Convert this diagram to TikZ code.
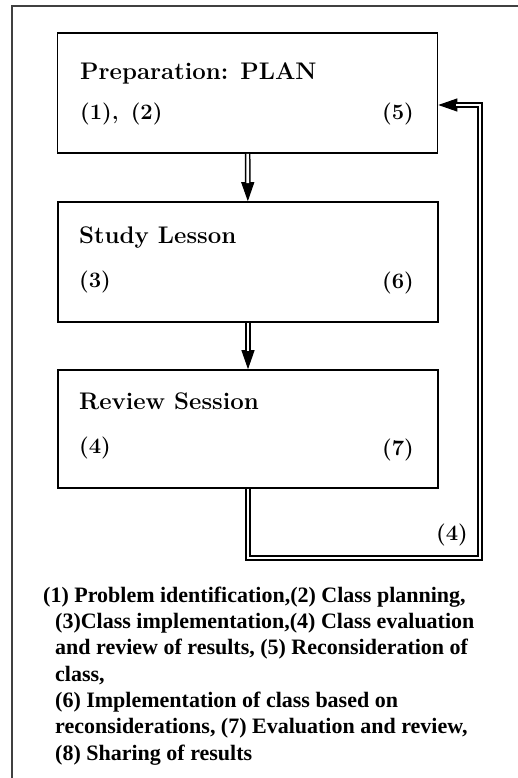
\documentclass[tikz,border=0pt]{standalone}
\usepackage{fontspec}
\newfontfamily\notefont{Liberation Serif}
\usetikzlibrary{arrows.meta,calc}
\tikzset{stage/.style={draw,line width=1.6pt,minimum width=380pt,minimum height=120pt,inner sep=0pt},
  head/.style={anchor=base west,inner sep=0pt,font=\fontsize{24}{28}\selectfont\bfseries},
  num/.style={inner sep=0pt,font=\fontsize{22}{26}\selectfont\bfseries},
  tip/.style={line width=1pt,-{Triangle[width=13pt,length=19pt]}},
  dbl/.style={double,double distance=2.6pt,line width=1.5pt,line join=miter,shorten >=18pt}}

\begin{document}
\begin{tikzpicture}[x=1pt,y=-1pt]
        \useasboundingbox (0,0) rectangle (518,778);
        \draw [line width=1.4pt,black!75] (12,778) -- (12,6) -- (518,6);

        \node[stage] (plan) at (247.5,93) {};
        \node[stage] (study) at (248,262) {};
        \node[stage,minimum height=118pt] (review) at (248,429) {};

        \node[head] (plant) at (80,80) {Preparation: PLAN};
        \node[num,anchor=base west] (plana) at (80,120) {(1),\hspace{0.55em}(2)};
        \node[num,anchor=base east] (planb) at (414,120) {(5)};
        \node[head] (studyt) at (79,243) {Study Lesson};
        \node[num,anchor=base west] (studya) at (79,287) {(3)};
        \node[num,anchor=base east] (studyb) at (414,288) {(6)};
        \node[head] (reviewt) at (79,409) {Review Session};
        \node[num,anchor=base west] (reviewa) at (79,453) {(4)};
        \node[num,anchor=base east] (reviewb) at (414,455) {(7)};

        \coordinate (loopc) at (480,558);
        \coordinate (back) at ($(plan.east)+(0,12)$);
        \node[num,anchor=base east] (loopt) at (468,540) {(4)};

        \draw [tip] (plan) -- (study);
        \draw [dbl] (plan) -- (study);
        \draw [tip] (study) -- (review);
        \draw [dbl] (study) -- (review);
        \draw [tip] (loopc) |- (back);
        \draw [dbl] (review.south) |- (loopc) |- (back);

        \node[anchor=base west,inner sep=0pt,align=left,
              font=\notefont\bfseries\fontsize{22}{26.3}\selectfont] (notes) at (55,760)
        {\hspace*{-12pt}(1) Problem identification,(2) Class planning,\\
         (3)Class implementation,(4) Class evaluation\\
         and review of results, (5) Reconsideration of\\
         class,\\
         (6) Implementation of class based on\\
         reconsiderations, (7) Evaluation and review,\\
         (8) Sharing of results};
    \end{tikzpicture}
\end{document}
